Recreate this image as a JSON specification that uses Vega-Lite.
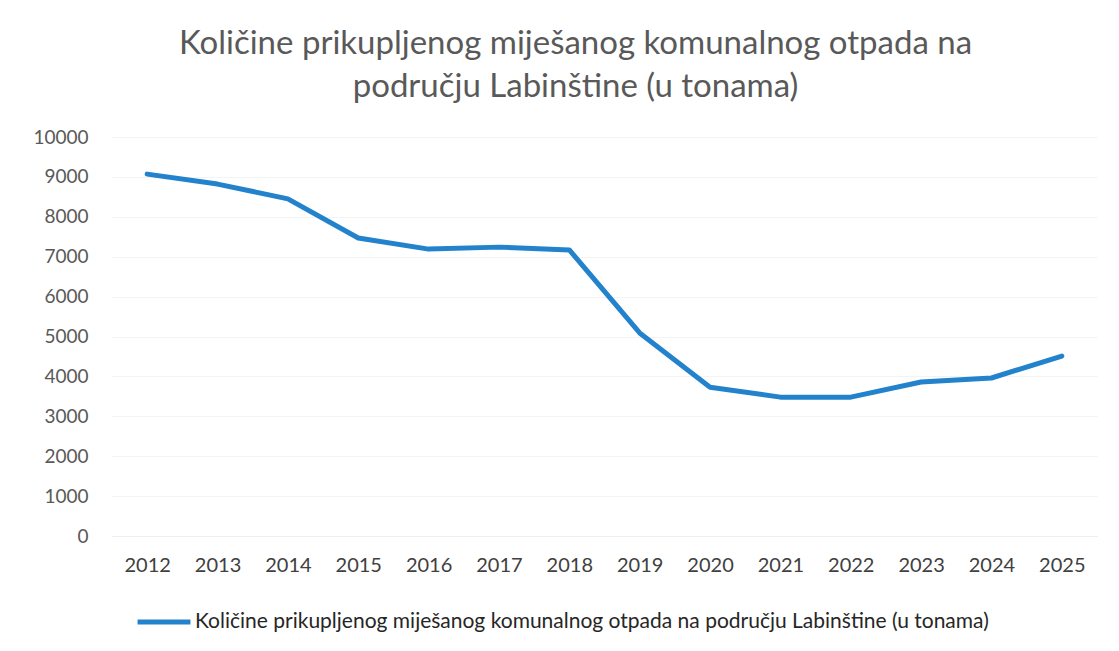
{
  "$schema": "https://vega.github.io/schema/vega-lite/v6.json",
  "autosize": {"type": "none"},
  "width": 985,
  "height": 399,
  "padding": {"left": 112, "top": 137, "right": 22, "bottom": 115},
  "background": "white",
  "config": {
    "view": {"stroke": null},
    "font": "Lato"
  },
  "title": {
    "text": ["Količine prikupljenog miješanog komunalnog otpada na", "području Labinštine (u tonama)"],
    "anchor": "middle",
    "dx": -29,
    "offset": 24,
    "fontSize": 33,
    "fontWeight": "normal",
    "color": "#595959",
    "lineHeight": 43,
    "font": "Lato"
  },
  "data": {
    "values": [
      {"year": "2012", "value": 9070, "series": "Količine prikupljenog miješanog komunalnog otpada na području Labinštine (u tonama)"},
      {"year": "2013", "value": 8820, "series": "Količine prikupljenog miješanog komunalnog otpada na području Labinštine (u tonama)"},
      {"year": "2014", "value": 8450, "series": "Količine prikupljenog miješanog komunalnog otpada na području Labinštine (u tonama)"},
      {"year": "2015", "value": 7470, "series": "Količine prikupljenog miješanog komunalnog otpada na području Labinštine (u tonama)"},
      {"year": "2016", "value": 7190, "series": "Količine prikupljenog miješanog komunalnog otpada na području Labinštine (u tonama)"},
      {"year": "2017", "value": 7240, "series": "Količine prikupljenog miješanog komunalnog otpada na području Labinštine (u tonama)"},
      {"year": "2018", "value": 7170, "series": "Količine prikupljenog miješanog komunalnog otpada na području Labinštine (u tonama)"},
      {"year": "2019", "value": 5090, "series": "Količine prikupljenog miješanog komunalnog otpada na području Labinštine (u tonama)"},
      {"year": "2020", "value": 3730, "series": "Količine prikupljenog miješanog komunalnog otpada na području Labinštine (u tonama)"},
      {"year": "2021", "value": 3480, "series": "Količine prikupljenog miješanog komunalnog otpada na području Labinštine (u tonama)"},
      {"year": "2022", "value": 3480, "series": "Količine prikupljenog miješanog komunalnog otpada na području Labinštine (u tonama)"},
      {"year": "2023", "value": 3860, "series": "Količine prikupljenog miješanog komunalnog otpada na području Labinštine (u tonama)"},
      {"year": "2024", "value": 3960, "series": "Količine prikupljenog miješanog komunalnog otpada na području Labinštine (u tonama)"},
      {"year": "2025", "value": 4510, "series": "Količine prikupljenog miješanog komunalnog otpada na području Labinštine (u tonama)"}
    ]
  },
  "mark": {"type": "line", "strokeWidth": 5, "strokeCap": "round", "strokeJoin": "round"},
  "encoding": {
    "x": {
      "field": "year",
      "type": "ordinal",
      "scale": {"type": "point", "padding": 0.5},
      "axis": {
        "title": null,
        "labelAngle": 0,
        "labelFontSize": 20,
        "labelColor": "#404040",
        "labelPadding": 19,
        "domain": true,
        "domainColor": "#eeeeee",
        "ticks": false,
        "grid": false
      }
    },
    "y": {
      "field": "value",
      "type": "quantitative",
      "scale": {"domain": [0, 10000], "nice": false},
      "axis": {
        "title": null,
        "format": "d",
        "values": [0, 1000, 2000, 3000, 4000, 5000, 6000, 7000, 8000, 9000, 10000],
        "labelFontSize": 19,
        "labelColor": "#595959",
        "labelPadding": 24,
        "domain": false,
        "ticks": false,
        "grid": true,
        "gridColor": "#f3f3f3"
      }
    },
    "color": {
      "field": "series",
      "type": "nominal",
      "scale": {"range": ["#2382CC"]},
      "legend": {
        "title": null,
        "orient": "none",
        "legendX": 23,
        "legendY": 456,
        "symbolType": "stroke",
        "symbolStrokeWidth": 5,
        "symbolSize": 2800,
        "labelFontSize": 21,
        "labelColor": "#262626",
        "labelLimit": 1000,
        "labelOffset": 2
      }
    }
  }
}
